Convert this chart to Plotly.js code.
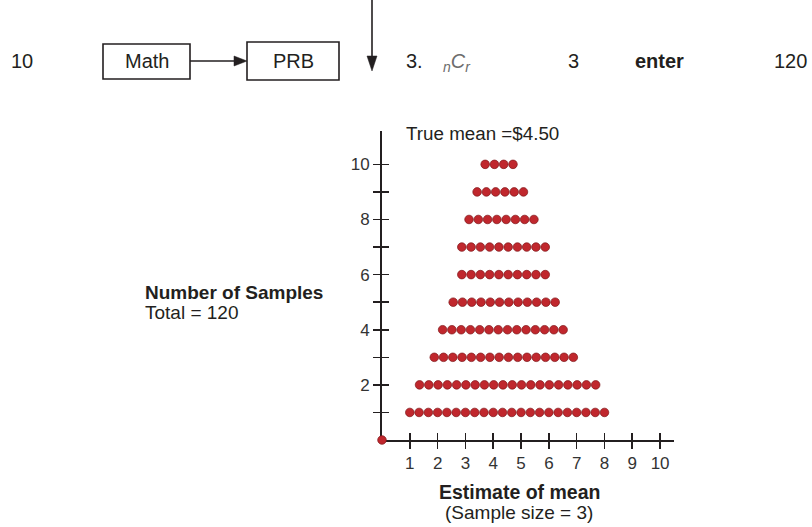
<!DOCTYPE html>
<html>
<head>
<meta charset="utf-8">
<script src="https://cdn.plot.ly/plotly-3.0.1.min.js"></script>
<style>html,body{margin:0;padding:0;background:#fff;}#chart{width:812px;height:527px;}</style>
</head>
<body>
<div id="chart"></div>
<script>
// ---- data ----
const rowLevels = [1, 2, 3, 4, 5, 6, 7, 8, 9, 10];          // number of samples (stack height)
const rowCounts = [22, 20, 16, 14, 12, 10, 10, 8, 6, 4];     // dots in each row
const rowStarts = [1.00, 1.35, 1.88, 2.18, 2.56, 2.87, 2.87, 3.13, 3.42, 3.71]; // first estimate in each row
const meanStep = 1 / 3;                                      // sample means move in thirds (sample size 3)
const xTickVals = [1, 2, 3, 4, 5, 6, 7, 8, 9, 10];
const xTickText = ['1', '2', '3', '4', '5', '6', '7', '8', '9', '10'];
const yTickVals = [2, 4, 6, 8, 10];
const yTickText = ['2', '4', '6', '8', '10'];
const yMinorVals = [1, 3, 5, 7, 9];
const yAllTicks = [1, 2, 3, 4, 5, 6, 7, 8, 9, 10];
const originX = [0];
const originY = [0];

// build dot coordinates from the row data
const dotX = [], dotY = [];
rowLevels.forEach((lvl, i) => {
  for (let k = 0; k < rowCounts[i]; k++) {
    dotX.push(rowStarts[i] + k * meanStep);
    dotY.push(lvl);
  }
});

const W = 812, H = 527;
const PX = p => p / W;
const PY = p => 1 - p / H;
const ink = '#231f20';
const FONT = 'Liberation Sans, Arial, sans-serif';

const dotStyle = {size: 8.6, color: '#c0272d', line: {color: '#7e1518', width: 0.7}};

const traces = [
  {x: dotX, y: dotY, type: 'scatter', mode: 'markers', marker: dotStyle, hoverinfo: 'x+y', cliponaxis: false},
  {x: originX, y: originY, type: 'scatter', mode: 'markers', marker: dotStyle, cliponaxis: false, hoverinfo: 'skip'},
  {x: [null], y: [null], xaxis: 'x2', yaxis: 'y2', type: 'scatter', mode: 'markers', hoverinfo: 'skip'}
];

const xDomain = [PX(382), PX(674)];
const yDomain = [PY(440), PY(131)];
const xRange = [0, 10.5];
const yRange = [0, 11.21];

const tickStyle = {ticklen: 7, tickwidth: 1.6, tickcolor: ink};
const baseAxis = Object.assign({
  showgrid: false, zeroline: false, showline: true, linecolor: ink, linewidth: 2,
  ticks: 'outside', layer: 'below traces',
  tickfont: {family: FONT, size: 17, color: '#333'}, fixedrange: true
}, tickStyle);

const annFont = (size, extra) => Object.assign({family: FONT, size: size, color: ink}, extra || {});
const ann = (x, y, text, size, opts) => Object.assign({
  xref: 'paper', yref: 'paper', x: PX(x), y: PY(y), text: text, showarrow: false,
  font: annFont(size), xanchor: 'center', yanchor: 'middle'
}, opts || {});
const pathP = pts => 'M ' + pts.map(p => PX(p[0]) + ',' + PY(p[1])).join(' L ') + ' Z';

const layout = {
  width: W, height: H,
  margin: {l: 0, r: 0, t: 0, b: 0},
  paper_bgcolor: '#fff', plot_bgcolor: 'rgba(0,0,0,0)',
  showlegend: false,
  font: {family: FONT, color: ink},
  xaxis: Object.assign({}, baseAxis, {domain: xDomain, range: xRange, tickvals: xTickVals, ticktext: xTickText, anchor: 'y'}),
  yaxis: Object.assign({}, baseAxis, {domain: yDomain, range: yRange, tickvals: yTickVals, ticktext: yTickText, anchor: 'x',
           minor: Object.assign({tickmode: 'array', tickvals: yMinorVals, ticks: 'outside', showgrid: false}, tickStyle)}),
  xaxis2: Object.assign({overlaying: 'x', anchor: 'y2', range: xRange, tickvals: xTickVals, showticklabels: false, layer: 'below traces',
           ticks: 'inside', showgrid: false, zeroline: false, showline: false, fixedrange: true}, tickStyle),
  yaxis2: Object.assign({overlaying: 'y', anchor: 'x2', range: yRange, tickvals: yAllTicks, showticklabels: false, layer: 'below traces',
           ticks: 'inside', showgrid: false, zeroline: false, showline: false, fixedrange: true}, tickStyle),
  shapes: [
    {type: 'rect', xref: 'paper', yref: 'paper', x0: PX(103), x1: PX(190), y0: PY(79), y1: PY(44), line: {color: ink, width: 1.6}},
    {type: 'rect', xref: 'paper', yref: 'paper', x0: PX(247), x1: PX(339), y0: PY(80), y1: PY(42), line: {color: ink, width: 1.6}},
    // horizontal arrow Math -> PRB
    {type: 'line', xref: 'paper', yref: 'paper', x0: PX(190), x1: PX(236), y0: PY(61), y1: PY(61), line: {color: ink, width: 1.6}},
    {type: 'path', xref: 'paper', yref: 'paper', path: pathP([[234, 56], [247, 61], [234, 66]]), fillcolor: ink, line: {color: ink, width: 0.5}},
    // vertical arrow
    {type: 'line', xref: 'paper', yref: 'paper', x0: PX(372), x1: PX(372), y0: PY(0), y1: PY(58), line: {color: ink, width: 1.6}},
    {type: 'path', xref: 'paper', yref: 'paper', path: pathP([[367, 56], [377, 56], [372, 71]]), fillcolor: ink, line: {color: ink, width: 0.5}}
  ],
  annotations: [
    ann(22, 61, '10', 20),
    ann(147, 61, 'Math', 20),
    ann(293, 61, 'PRB', 20),
    ann(414, 61, '3.', 20),
    ann(457, 63, '<i><sub>n</sub>C<sub>r</sub></i>', 20, {font: annFont(20, {color: '#6d6d6d'})}),
    ann(573, 61, '3', 20),
    ann(659, 61, '<b>enter</b>', 20),
    ann(790, 61, '120', 20),
    ann(482, 133, 'True mean =$4.50', 18.8),
    ann(143, 292, '<b>Number of Samples</b>', 19, {xanchor: 'left'}),
    ann(143, 312, 'Total = 120', 19, {xanchor: 'left'}),
    ann(519, 492, '<b>Estimate of mean</b>', 19.5),
    ann(519, 512, '(Sample size = 3)', 19)
  ]
};

Plotly.newPlot('chart', traces, layout, {displayModeBar: false, staticPlot: true});
</script>
</body>
</html>
